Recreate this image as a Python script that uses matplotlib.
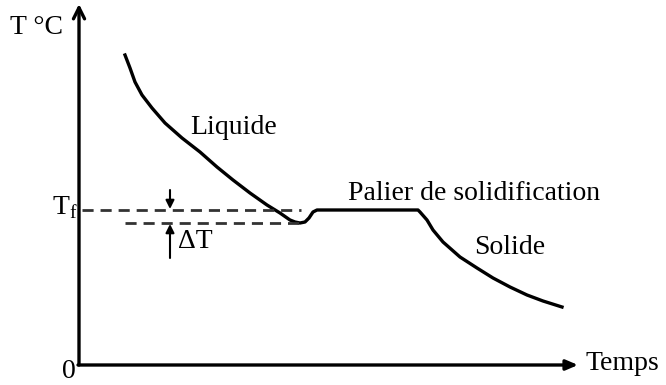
import matplotlib.pyplot as plt

# courbe de refroidissement (unites arbitraires, origine au coin des axes)
t_liquide = [46, 51, 56, 63, 73, 86, 103, 121, 138, 154, 171, 188, 201,
             211, 216, 221, 226, 230, 234, 238, 241]
T_liquide = [310, 297, 283, 270, 257, 242, 227, 213, 198, 185, 172, 160, 152,
             145, 143, 142, 143, 147, 153, 155, 155]
t_palier = [241, 339]
T_palier = [155, 155]
t_solide = [339, 341, 348, 354, 364, 381, 398, 414, 431, 448, 464, 483]
T_solide = [155, 153, 145, 135, 123, 108, 97, 87, 78, 70, 64, 58]

T_f = 155
T_surf = 142
t_dT = 91

plt.rcParams['font.family'] = ['Liberation Serif', 'DejaVu Serif']

fig = plt.figure(figsize=(6.66, 3.85), dpi=100)
ax = fig.add_axes([0, 0, 1, 1])
ax.set_xlim(-79, 587)
ax.set_ylim(-20, 365)
ax.axis('off')

# axes avec fleches
ax.annotate('', xy=(0, 361), xytext=(0, 0),
            arrowprops=dict(arrowstyle='->,head_length=0.8,head_width=0.4',
                            lw=2.4, color='black', shrinkA=0, shrinkB=0))
ax.annotate('', xy=(499, 0), xytext=(-1, 0),
            arrowprops=dict(arrowstyle='-|>,head_length=0.7,head_width=0.3',
                            lw=2.4, color='black', shrinkA=0, shrinkB=0))

# courbe
ax.plot(t_liquide + t_palier + t_solide, T_liquide + T_palier + T_solide,
        color='black', lw=2.4, solid_joinstyle='round')

# lignes pointillees Tf et surfusion
ax.plot([3, 222], [T_f, T_f], color='#333333', lw=2, dashes=(4, 2.5))
ax.plot([46, 220], [T_surf, T_surf], color='#333333', lw=2, dashes=(4, 2.5))

# fleches delta T
ax.annotate('', xy=(t_dT, T_f + 1), xytext=(t_dT, T_f + 20),
            arrowprops=dict(arrowstyle='-|>,head_length=0.5,head_width=0.25',
                            lw=1.5, color='black', shrinkA=0, shrinkB=0))
ax.annotate('', xy=(t_dT, T_surf - 1), xytext=(t_dT, T_surf - 35),
            arrowprops=dict(arrowstyle='-|>,head_length=0.5,head_width=0.25',
                            lw=1.5, color='black', shrinkA=0, shrinkB=0))

fs = 20
ax.text(-69, 337, 'T °C', fontsize=fs, va='center', ha='left')
ax.text(-27, 157, r'T$_\mathregular{f}$', fontsize=fs, va='center', ha='left')
ax.text(99, 123, 'ΔT', fontsize=fs, va='center', ha='left')
ax.text(-17, -7, '0', fontsize=fs, va='center', ha='left')
ax.text(506, 1, 'Temps', fontsize=fs, va='center', ha='left')
ax.text(111, 238, 'Liquide', fontsize=fs, va='center', ha='left')
ax.text(269, 172, 'Palier de solidification', fontsize=fs, va='center', ha='left')
ax.text(395, 117, 'Solide', fontsize=fs, va='center', ha='left')

fig.savefig('out.png', dpi=100)
